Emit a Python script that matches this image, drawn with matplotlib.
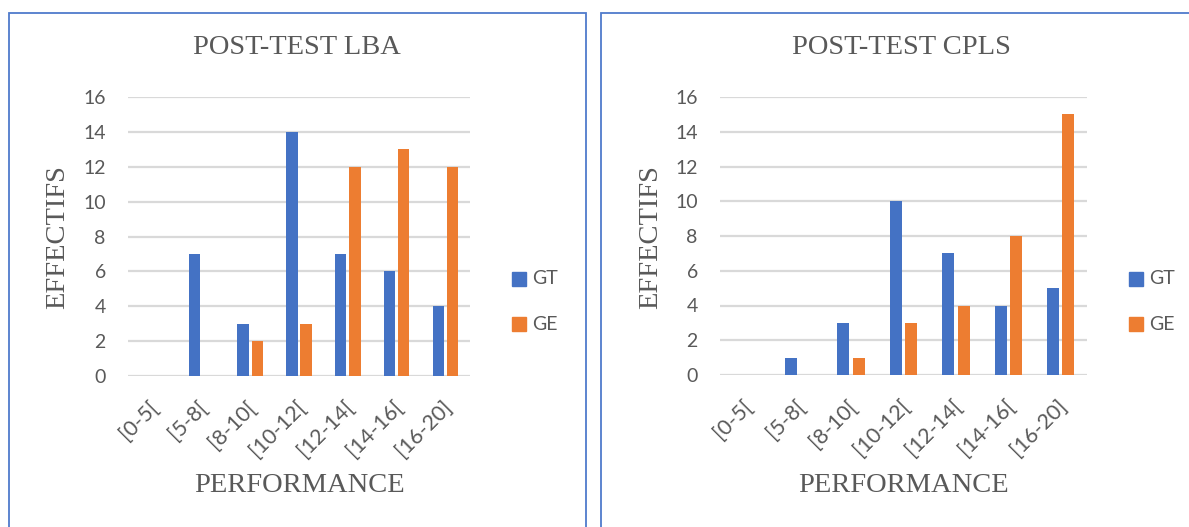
import matplotlib
matplotlib.use("Agg")
import matplotlib.pyplot as plt
import matplotlib.transforms as mtransforms
import numpy as np
from matplotlib.patches import Rectangle

# Score bands and group counts
categories = ["[0-5[", "[5-8[", "[8-10[", "[10-12[", "[12-14[", "[14-16[", "[16-20]"]
series_names = ["GT", "GE"]

lba_gt = [0, 7, 3, 14, 7, 6, 4]
lba_ge = [0, 0, 2, 3, 12, 13, 12]

cpls_gt = [0, 1, 3, 10, 7, 4, 5]
cpls_ge = [0, 0, 1, 3, 4, 8, 15]

titles = ["POST-TEST LBA", "POST-TEST CPLS"]
y_ticks = [0, 2, 4, 6, 8, 10, 12, 14, 16]

BLUE = "#4472C4"
ORANGE = "#ED7D31"
GREY_TEXT = "#595959"
GRID = "#D9D9D9"
BORDER = "#4F7BCB"

SERIF = "Liberation Serif"
SANS = "Lato"

W, H = 1189, 527
fig = plt.figure(figsize=(W / 100, H / 100), dpi=100)
fig.patch.set_facecolor("white")


def px(x0, y0, x1, y1):
    """Pixel box (left, top, right, bottom) -> figure fraction rect."""
    return [x0 / W, 1 - y1 / H, (x1 - x0) / W, (y1 - y0) / H]


panels = [
    dict(title=titles[0], gt=lba_gt, ge=lba_ge,
         ax_box=(128, 97, 470, 376), border=(8.5, 12.5, 585.5, 540),
         title_xy=(297, 48), ylab_xy=(58, 237), xlab_xy=(299, 486),
         leg_x=512, leg_y=(279, 324)),
    dict(title=titles[1], gt=cpls_gt, ge=cpls_ge,
         ax_box=(720, 97, 1087, 375), border=(601, 12.5, 1200, 540),
         title_xy=(901, 48), ylab_xy=(651, 237), xlab_xy=(903, 485),
         leg_x=1129, leg_y=(279, 324)),
]

x = np.arange(len(categories))
bar_w = 0.23
offset = 0.145

for p in panels:
    # chart frame
    bx0, by0, bx1, by1 = p["border"]
    fig.patches.append(Rectangle((bx0 / W, 1 - by1 / H), (bx1 - bx0) / W, (by1 - by0) / H,
                                 transform=fig.transFigure, fill=False,
                                 edgecolor=BORDER, linewidth=1.3, zorder=0))

    ax = fig.add_axes(px(*p["ax_box"]))
    ax.bar(x - offset, p["gt"], width=bar_w, color=BLUE, zorder=3)
    ax.bar(x + offset, p["ge"], width=bar_w, color=ORANGE, zorder=3)

    ax.set_xlim(-0.5, len(categories) - 0.5)
    ax.set_ylim(0, 16)
    ax.set_yticks(y_ticks)
    ax.set_yticklabels([str(t) for t in y_ticks], fontsize=14,
                       color=GREY_TEXT, family=SANS)
    ax.set_xticks(x)
    ax.set_xticklabels(categories, rotation=45, ha="right", va="center",
                       rotation_mode="anchor", fontsize=15.5,
                       color=GREY_TEXT, family=SANS)
    ax.tick_params(axis="y", length=0, pad=16)
    ax.tick_params(axis="x", length=0, pad=20)
    shift = mtransforms.ScaledTranslation(3 / 100, 0, fig.dpi_scale_trans)
    for lab in ax.get_xticklabels():
        lab.set_transform(lab.get_transform() + shift)
    for s in ax.spines.values():
        s.set_visible(False)
    ax.grid(axis="y", color=GRID, linewidth=1.6, zorder=0)
    ax.set_axisbelow(True)

    tx, ty = p["title_xy"]
    fig.text(tx / W, 1 - ty / H, p["title"], ha="center", va="center",
             fontsize=20.5, family=SERIF, color=GREY_TEXT)
    lx, ly = p["ylab_xy"]
    fig.text(lx / W, 1 - ly / H, "EFFECTIFS", ha="center", va="center",
             rotation=90, fontsize=20.5, family=SERIF, color=GREY_TEXT)
    xx, xy = p["xlab_xy"]
    fig.text(xx / W, 1 - xy / H, "PERFORMANCE", ha="center", va="center",
             fontsize=20.5, family=SERIF, color=GREY_TEXT)

    # legend
    for name, col, yy in zip(series_names, [BLUE, ORANGE], p["leg_y"]):
        fig.patches.append(Rectangle((p["leg_x"] / W, 1 - (yy + 7) / H), 14 / W, 14 / H,
                                     transform=fig.transFigure, color=col))
        fig.text((p["leg_x"] + 20) / W, 1 - yy / H, name, ha="left", va="center",
                 fontsize=14, family=SANS, color=GREY_TEXT)

fig.savefig("out.png", dpi=100, facecolor="white")
